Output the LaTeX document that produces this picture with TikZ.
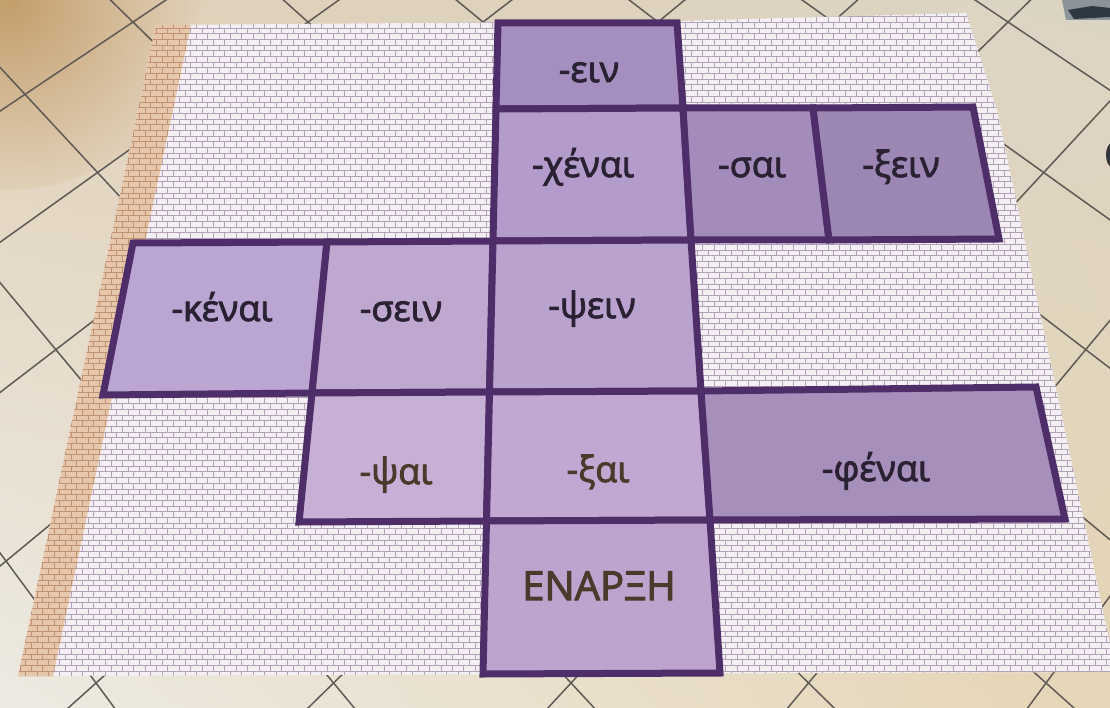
\documentclass[tikz,border=0pt]{standalone}
\usepackage{fontspec}
\setmainfont{Open Sans}
\newfontfamily\tilefam{Open Sans}[FakeBold=2.5]
\usetikzlibrary{patterns,shadings}
\definecolor{grout}{HTML}{5F5A55}
\definecolor{floorUL}{RGB}{224,208,184}
\definecolor{floorUR}{RGB}{220,212,196}
\definecolor{floorLL}{RGB}{237,234,226}
\definecolor{floorLR}{RGB}{230,213,182}
\definecolor{floortan}{RGB}{196,158,108}
\definecolor{tileedge}{HTML}{4E2E68}
\definecolor{sheetbg}{HTML}{F3EFF3}
\definecolor{brickline}{HTML}{B2A2B8}
\definecolor{curlbg}{HTML}{E6C7AC}
\definecolor{curlline}{HTML}{BF9274}
\definecolor{inkdark}{HTML}{2A2232}
\definecolor{inkbrown}{HTML}{4A3A2C}
\newcommand{\tilefont}{\tilefam\fontsize{36}{40}\selectfont}
\newcommand{\startfont}{\tilefam\fontsize{40}{44}\selectfont}

\begin{document}
\begin{tikzpicture}[x=1pt,y=-1pt,
    tile/.style={draw=tileedge,line width=7pt,line join=miter},
    tiletext/.style={anchor=base,font=\tilefont,text=inkdark}]
  \useasboundingbox (0,0) rectangle (1110,708);
  \begin{scope}
  \clip (0,0) rectangle (1110,708);

  % Floor
  \shade[upper left=floorUL,upper right=floorUR,
         lower left=floorLL,lower right=floorLR] (0,0) rectangle (1110,708);
  \shade[inner color=floortan,outer color=floorUL] (10,0) circle (190);
  \foreach \k in {-4,...,9} {
    \draw[grout,line width=1.5pt] ({569+0.9638*(-523.5+175*\k)},-45) -- ({569+1.43*(264+175*\k)},818);
    \draw[grout,line width=1.5pt] ({569+0.9638*(-348.5+175*\k)},-45) -- ({569+1.43*(-1136+175*\k)},818);
  }
  \fill[fill={rgb,255:red,138;green,148;blue,154}] (1062,0) -- (1110,0) -- (1110,20) -- (1066,20) -- cycle;
  \fill[fill={rgb,255:red,46;green,56;blue,64}] (1068,10) -- (1092,6) -- (1110,8) -- (1110,17) -- (1074,19) -- cycle;
  \fill[fill={rgb,255:red,50;green,54;blue,58}] (1112,155) ellipse (6 and 12);

  % Sheet
  \coordinate (sTL) at (156,25);
  \coordinate (sTM) at (677,21);
  \coordinate (sTR) at (966,13);
  \coordinate (sRM) at (997,110);
  \coordinate (sBR) at (1116,672);
  \coordinate (sBL) at (18,676);
  \fill[sheetbg] (sTL) -- (sTM) -- (sTR) -- (sRM) -- (sBR) -- (sBL) -- cycle;
  \path[pattern=bricks,pattern color=brickline] (sTL) -- (sTM) -- (sTR) -- (sRM) -- (sBR) -- (sBL) -- cycle;
  % curled left edge
  \fill[curlbg] (sTL) -- (191,25) -- (53,676) -- (sBL) -- cycle;
  \path[pattern=bricks,pattern color=curlline] (sTL) -- (191,25) -- (53,676) -- (sBL) -- cycle;

  % Grid corners
  \coordinate (a0) at (498,23);    \coordinate (b0) at (677,23);
  \coordinate (a1) at (496,109);   \coordinate (b1) at (683,108);
  \coordinate (e1) at (813,108);   \coordinate (f1) at (973,107);
  \coordinate (v2) at (133,243);   \coordinate (w2) at (327,242);
  \coordinate (a2) at (493,241);   \coordinate (b2) at (691,240);
  \coordinate (e2) at (829,240);   \coordinate (f2) at (999,239);
  \coordinate (v3) at (103,395);   \coordinate (w3) at (312,393);
  \coordinate (a3) at (489.5,392); \coordinate (b3) at (701,391);
  \coordinate (g3) at (1036,387);
  \coordinate (w4) at (299,522);   \coordinate (a4) at (486.5,521);
  \coordinate (b4) at (710,520);   \coordinate (g4) at (1065,519);
  \coordinate (a5) at (483,674);   \coordinate (b5) at (720,673);

  % Tiles
  \draw[tile,fill={rgb,255:red,165;green,143;blue,192}] (a0) -- (b0) -- (b1) -- (a1) -- cycle;
  \draw[tile,fill={rgb,255:red,179;green,156;blue,203}] (a1) -- (b1) -- (b2) -- (a2) -- cycle;
  \draw[tile,fill={rgb,255:red,163;green,140;blue,188}] (b1) -- (e1) -- (e2) -- (b2) -- cycle;
  \draw[tile,fill={rgb,255:red,156;green,134;blue,180}] (e1) -- (f1) -- (f2) -- (e2) -- cycle;
  \draw[tile,fill={rgb,255:red,187;green,165;blue,211}] (v2) -- (w2) -- (w3) -- (v3) -- cycle;
  \draw[tile,fill={rgb,255:red,191;green,168;blue,208}] (w2) -- (a2) -- (a3) -- (w3) -- cycle;
  \draw[tile,fill={rgb,255:red,185;green,162;blue,205}] (a2) -- (b2) -- (b3) -- (a3) -- cycle;
  \draw[tile,fill={rgb,255:red,199;green,176;blue,214}] (w3) -- (a3) -- (a4) -- (w4) -- cycle;
  \draw[tile,fill={rgb,255:red,192;green,168;blue,210}] (a3) -- (b3) -- (b4) -- (a4) -- cycle;
  \draw[tile,fill={rgb,255:red,166;green,144;blue,187}] (b3) -- (g3) -- (g4) -- (b4) -- cycle;
  \draw[tile,fill={rgb,255:red,188;green,164;blue,207}] (a4) -- (b4) -- (b5) -- (a5) -- cycle;

  % Labels
  \node[tiletext] (ein)    at (589,82)  {-ειν};
  \node[tiletext] (chenai) at (583,177) {-χέναι};
  \node[tiletext] (sai)    at (752,177) {-σαι};
  \node[tiletext] (xein)   at (901,177) {-ξειν};
  \node[tiletext] (kenai)  at (222,321) {-κέναι};
  \node[tiletext] (sein)   at (401,321) {-σειν};
  \node[tiletext] (psein)  at (592,318) {-ψειν};
  \node[tiletext,text=inkbrown] (psai) at (396,484) {-ψαι};
  \node[tiletext,text=inkbrown] (xai)  at (598,482) {-ξαι};
  \node[tiletext] (fenai)  at (876,481) {-φέναι};
  \node[tiletext,font=\startfont,text=inkbrown] (start) at (599,600) {ΕΝΑΡΞΗ};
  \end{scope}
\end{tikzpicture}
\end{document}
